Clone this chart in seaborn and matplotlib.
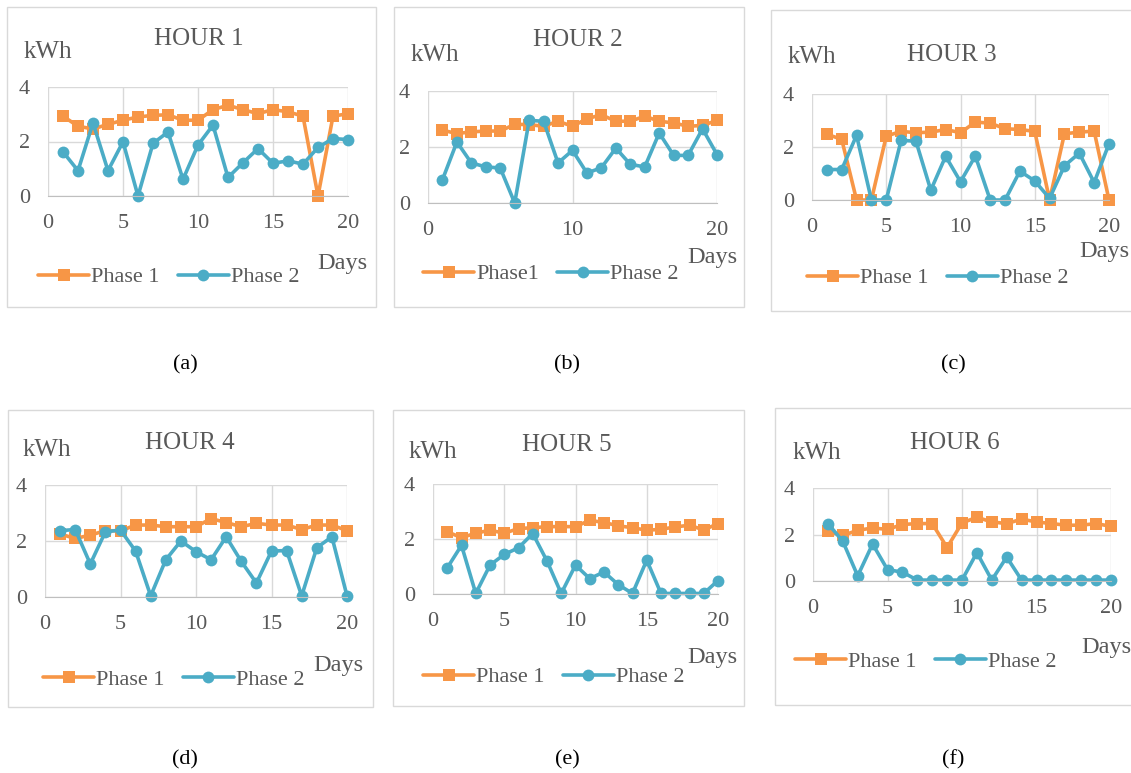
import matplotlib
matplotlib.use("Agg")
import matplotlib.pyplot as plt
import seaborn as sns
import numpy as np
from matplotlib.lines import Line2D
from matplotlib.patches import Rectangle

# data (kWh per day, 20 days)
days = list(range(1, 21))

hour1_phase1 = [2.93, 2.56, 2.46, 2.63, 2.78, 2.90, 2.96, 2.98, 2.78, 2.78,
                3.17, 3.33, 3.17, 3.02, 3.17, 3.09, 2.93, 0.00, 2.93, 3.02]
hour1_phase2 = [1.62, 0.93, 2.68, 0.93, 1.99, 0.00, 1.93, 2.35, 0.61, 1.87,
                2.60, 0.68, 1.22, 1.74, 1.20, 1.29, 1.17, 1.78, 2.11, 2.07]

hour2_phase1 = [2.60, 2.48, 2.54, 2.57, 2.57, 2.81, 2.80, 2.74, 2.92, 2.74,
                3.01, 3.15, 2.92, 2.92, 3.10, 2.92, 2.86, 2.74, 2.77, 2.95]
hour2_phase2 = [0.83, 2.18, 1.43, 1.29, 1.25, 0.00, 2.95, 2.92, 1.43, 1.88,
                1.07, 1.26, 1.96, 1.38, 1.29, 2.50, 1.70, 1.70, 2.65, 1.73]

hour3_phase1 = [2.48, 2.29, 0.00, 0.00, 2.41, 2.59, 2.54, 2.56, 2.66, 2.54,
                2.94, 2.90, 2.69, 2.66, 2.59, 0.00, 2.50, 2.56, 2.60, 0.00]
hour3_phase2 = [1.15, 1.15, 2.44, 0.00, 0.00, 2.25, 2.22, 0.37, 1.65, 0.69,
                1.66, 0.00, 0.00, 1.09, 0.72, 0.06, 1.29, 1.77, 0.66, 2.12]

hour4_phase1 = [2.25, 2.09, 2.21, 2.37, 2.36, 2.57, 2.57, 2.51, 2.51, 2.51,
                2.80, 2.66, 2.51, 2.63, 2.57, 2.57, 2.41, 2.57, 2.57, 2.37]
hour4_phase2 = [2.37, 2.41, 1.18, 2.33, 2.39, 1.64, 0.04, 1.33, 2.00, 1.62,
                1.33, 2.15, 1.27, 0.50, 1.64, 1.66, 0.04, 1.76, 2.15, 0.04]

hour5_phase1 = [2.26, 2.05, 2.21, 2.32, 2.21, 2.38, 2.41, 2.45, 2.45, 2.45,
                2.68, 2.60, 2.48, 2.41, 2.32, 2.35, 2.44, 2.50, 2.33, 2.56]
hour5_phase2 = [0.95, 1.77, 0.02, 1.05, 1.44, 1.68, 2.20, 1.20, 0.02, 1.05,
                0.56, 0.80, 0.34, 0.02, 1.23, 0.02, 0.02, 0.02, 0.02, 0.49]

hour6_phase1 = [2.13, 1.96, 2.18, 2.28, 2.22, 2.43, 2.47, 2.47, 1.44, 2.50,
                2.74, 2.54, 2.47, 2.66, 2.54, 2.47, 2.40, 2.40, 2.47, 2.35]
hour6_phase2 = [2.47, 1.71, 0.22, 1.59, 0.49, 0.38, 0.04, 0.04, 0.04, 0.04,
                1.22, 0.04, 1.03, 0.04, 0.04, 0.04, 0.04, 0.04, 0.04, 0.04]

titles = ["HOUR 1", "HOUR 2", "HOUR 3", "HOUR 4", "HOUR 5", "HOUR 6"]
sub_labels = ["(a)", "(b)", "(c)", "(d)", "(e)", "(f)"]
phase1_names = ["Phase 1", "Phase1", "Phase 1", "Phase 1", "Phase 1", "Phase 1"]
phase2_name = "Phase 2"
x_ticks = [[0, 5, 10, 15, 20], [0, 10, 20], [0, 5, 10, 15, 20],
           [0, 5, 10, 15, 20], [0, 5, 10, 15, 20], [0, 5, 10, 15, 20]]
y_ticks = [0, 2, 4]

phase1_all = [hour1_phase1, hour2_phase1, hour3_phase1, hour4_phase1, hour5_phase1, hour6_phase1]
phase2_all = [hour1_phase2, hour2_phase2, hour3_phase2, hour4_phase2, hour5_phase2, hour6_phase2]

# layout in pixels (left, top, right, bottom) etc.
layout = [
    dict(box=(7, 7, 376, 307), plot=(48, 87, 348, 196), title=(199, 39), kwh=(48, 52),
         days=(342, 263), legend=(38, 277), sub=(185, 365)),
    dict(box=(394, 7, 744, 307), plot=(428, 91, 717, 203), title=(578, 40), kwh=(435, 55),
         days=(712, 257), legend=(423, 274), sub=(567, 365)),
    dict(box=(771, 10, 1140, 311), plot=(812, 94, 1109, 200), title=(952, 55), kwh=(812, 57),
         days=(1104, 252), legend=(807, 278), sub=(953, 365)),
    dict(box=(8, 410, 373, 707), plot=(45, 485, 347, 597), title=(190, 443), kwh=(47, 450),
         days=(338, 665), legend=(43, 680), sub=(185, 760)),
    dict(box=(393, 410, 744, 706), plot=(433, 484, 718, 594), title=(567, 445), kwh=(433, 452),
         days=(712, 657), legend=(423, 677), sub=(567, 760)),
    dict(box=(775, 408, 1140, 705), plot=(813, 488, 1111, 581), title=(955, 443), kwh=(817, 453),
         days=(1106, 648), legend=(795, 662), sub=(953, 760)),
]

W, H = 1131, 773
ORANGE = "#F79646"
BLUE = "#4BACC6"
TEXT = "#595959"
GRID = "#D9D9D9"


def fx(px):
    return px / W


def fy(py):
    return 1 - py / H


sns.set_style("white")
plt.rcParams['font.family'] = ['Liberation Serif', 'DejaVu Serif']

fig = plt.figure(figsize=(W / 100, H / 100), dpi=100)

for i in range(6):
    lay = layout[i]
    bx0, by0, bx1, by1 = lay['box']
    fig.patches.append(Rectangle((fx(bx0), fy(by1)), fx(bx1) - fx(bx0), fy(by0) - fy(by1),
                                 transform=fig.transFigure, facecolor='none',
                                 edgecolor=GRID, linewidth=1.0))

    px0, py0, px1, py1 = lay['plot']
    ax = fig.add_axes([fx(px0), fy(py1), fx(px1) - fx(px0), fy(py0) - fy(py1)])

    sns.lineplot(x=days, y=phase1_all[i], ax=ax, color=ORANGE, marker='s', markersize=8,
                 linewidth=2.6, markeredgewidth=0, legend=False)
    sns.lineplot(x=days, y=phase2_all[i], ax=ax, color=BLUE, marker='o', markersize=8.5,
                 linewidth=2.6, markeredgewidth=0, legend=False)
    for ln in ax.lines:
        ln.set_clip_on(False)

    ax.set_xlim(0, 20)
    ax.set_ylim(0, 4)
    ax.set_xticks(x_ticks[i])
    ax.set_yticks(y_ticks)
    ax.set_xlabel("")
    ax.set_ylabel("")
    ax.grid(True, color=GRID, linewidth=1.0)
    ax.set_axisbelow(True)
    for side in ['top', 'right', 'left']:
        ax.spines[side].set_visible(False)
    ax.spines['bottom'].set_color("#BFBFBF")
    ax.tick_params(axis='both', length=0, labelsize=16, labelcolor=TEXT)
    ax.tick_params(axis='x', pad=13)
    ax.tick_params(axis='y', pad=13)

    fig.text(fx(lay['title'][0]), fy(lay['title'][1]), titles[i], ha='center', va='center',
             fontsize=18, color=TEXT)
    fig.text(fx(lay['kwh'][0]), fy(lay['kwh'][1]), "kWh", ha='center', va='center',
             fontsize=18, color=TEXT)
    fig.text(fx(lay['days'][0]), fy(lay['days'][1]), "Days", ha='center', va='center',
             fontsize=17.5, color=TEXT)
    fig.text(fx(lay['sub'][0]), fy(lay['sub'][1]), sub_labels[i], ha='center', va='center',
             fontsize=16, color='black')

    handles = [Line2D([], [], color=ORANGE, marker='s', markersize=8, linewidth=2.6, markeredgewidth=0),
               Line2D([], [], color=BLUE, marker='o', markersize=8.5, linewidth=2.6, markeredgewidth=0)]
    leg = ax.legend(handles, [phase1_names[i], phase2_name], loc='center left',
                    bbox_to_anchor=(fx(lay['legend'][0]), fy(lay['legend'][1])),
                    bbox_transform=fig.transFigure, ncol=2, frameon=False,
                    handlelength=2.3, handletextpad=0.1, columnspacing=0.8,
                    borderpad=0, borderaxespad=0, fontsize=16)
    for t in leg.get_texts():
        t.set_color(TEXT)

fig.savefig("out.png", dpi=100)
